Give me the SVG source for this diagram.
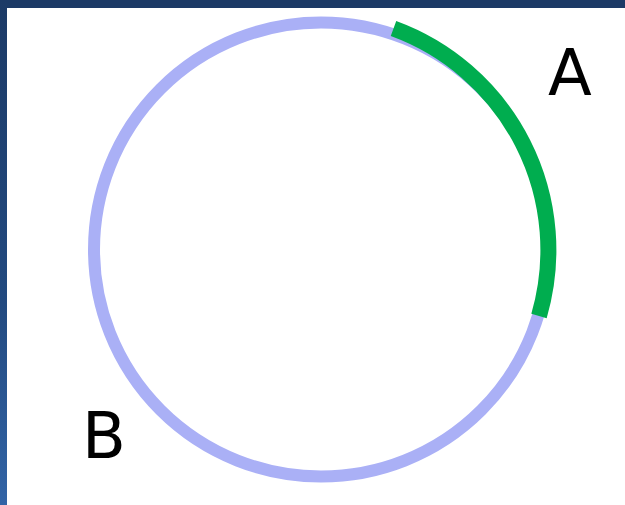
<svg xmlns="http://www.w3.org/2000/svg" width="625" height="505" viewBox="0 0 625 505">
  <defs>
    <linearGradient id="edge" x1="0" y1="0" x2="0" y2="1">
      <stop offset="0" stop-color="#1c3a66"/>
      <stop offset="0.6" stop-color="#224a80"/>
      <stop offset="1" stop-color="#3264a6"/>
    </linearGradient>
  </defs>
  <style>
    .ring { fill: none; stroke: #aab0f6; stroke-width: 12; }
    .arc { fill: none; stroke: #00ad4f; stroke-width: 16; stroke-linecap: butt; }
    .label { font-family: "DejaVu Sans", sans-serif; font-size: 64px; fill: #000000; }
  </style>
  <rect x="0" y="0" width="625" height="505" fill="#ffffff"/>
  <rect x="0" y="0" width="625" height="8" fill="#1c3a66"/>
  <rect x="0" y="0" width="7" height="505" fill="url(#edge)"/>
  <g id="circle">
    <circle class="ring" cx="321" cy="249.5" r="227"/>
  </g>
  <g id="connectors">
    <path class="arc" d="M 393.5 28.5 A 236 236 0 0 1 539 316"/>
  </g>
  <g id="labelA">
    <text class="label" x="548" y="95">A</text>
  </g>
  <g id="labelB">
    <text class="label" x="82" y="458">B</text>
  </g>
</svg>
